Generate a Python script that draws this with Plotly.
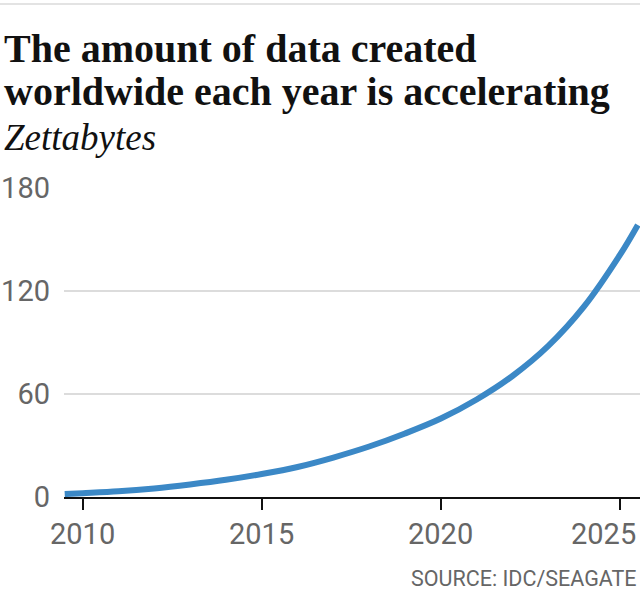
import plotly.graph_objects as go

# Data
years = [2009.5, 2010, 2011, 2012, 2013, 2014, 2015, 2016, 2017, 2018,
         2019, 2020, 2021, 2022, 2023, 2024, 2025, 2025.5]
zettabytes = [1.7, 2.2, 3.3, 5.0, 7.3, 10.0, 13.4, 17.5, 23.0, 29.4,
              37.0, 45.7, 56.8, 70.5, 88.0, 111.0, 141.0, 158.5]
x_ticks = [2010, 2015, 2020, 2025]
x_tick_labels = ["2010", "2015", "2020", "2025"]
y_ticks = [0, 60, 120, 180]
y_tick_labels = ["0", "60", "120", "180"]

title_line1 = "The amount of data created"
title_line2 = "worldwide each year is accelerating"
subtitle = "Zettabytes"
source = "SOURCE: IDC/SEAGATE"

W, H = 640, 597
ML, MR, MT, MB = 64, 0, 188, 100
PW, PH = W - ML - MR, H - MT - MB


def px_x(px):
    return (px - ML) / PW


def px_y(py):
    return (H - MB - py) / PH


TICK_FONT = dict(family="Roboto, Liberation Sans, sans-serif", size=29, color="#666666")

fig = go.Figure()
fig.add_trace(go.Scatter(
    x=years, y=zettabytes, mode="lines",
    line=dict(color="#3b88c6", width=6, shape="spline", smoothing=1.0),
    hoverinfo="skip", showlegend=False,
))

annotations = []
# x tick labels
for i, (v, t) in enumerate(zip(x_ticks, x_tick_labels)):
    last = i == len(x_ticks) - 1
    annotations.append(dict(
        x=v, y=px_y(534), xref="x", yref="paper",
        text=t, showarrow=False,
        xanchor="right" if last else "center", yanchor="middle",
        xshift=(638 - 620) if last else 0,
        font=TICK_FONT,
    ))

annotations += [
    dict(x=px_x(2), y=px_y(48), xref="paper", yref="paper", text="<b>" + title_line1 + "</b>",
         showarrow=False, xanchor="left", yanchor="middle",
         font=dict(family="Liberation Serif, serif", size=40, color="#111111")),
    dict(x=px_x(2), y=px_y(91), xref="paper", yref="paper", text="<b>" + title_line2 + "</b>",
         showarrow=False, xanchor="left", yanchor="middle",
         font=dict(family="Liberation Serif, serif", size=40, color="#111111")),
    dict(x=px_x(2), y=px_y(137), xref="paper", yref="paper", text="<i>" + subtitle + "</i>",
         showarrow=False, xanchor="left", yanchor="middle",
         font=dict(family="Liberation Serif, serif", size=37, color="#111111")),
    dict(x=px_x(639), y=px_y(578), xref="paper", yref="paper", text=source,
         showarrow=False, xanchor="right", yanchor="middle",
         font=dict(family="Roboto, sans-serif", size=21.5, color="#666666")),
]

fig.update_layout(
    width=W, height=H,
    margin=dict(l=ML, r=MR, t=MT, b=MB, autoexpand=False),
    paper_bgcolor="white", plot_bgcolor="white",
    showlegend=False,
    annotations=annotations,
    shapes=[dict(type="line", xref="paper", yref="paper",
                 x0=px_x(0), x1=px_x(640), y0=px_y(4), y1=px_y(4),
                 line=dict(color="#e3e3e3", width=2))],
    xaxis=dict(
        range=[2009.48, 2025.56], tickvals=x_ticks, ticktext=x_tick_labels,
        showticklabels=False, showgrid=False, zeroline=False,
        showline=True, linecolor="#111111", linewidth=2,
        ticks="outside", ticklen=11, tickwidth=2, tickcolor="#111111",
    ),
    yaxis=dict(
        range=[0, 180], tickvals=y_ticks, ticktext=y_tick_labels,
        showgrid=True, gridcolor="#dcdcdc", gridwidth=1.5,
        zeroline=False, showline=False, ticks="",
        ticklabelstandoff=13, tickfont=TICK_FONT,
    ),
)

fig.write_html("out.html")
